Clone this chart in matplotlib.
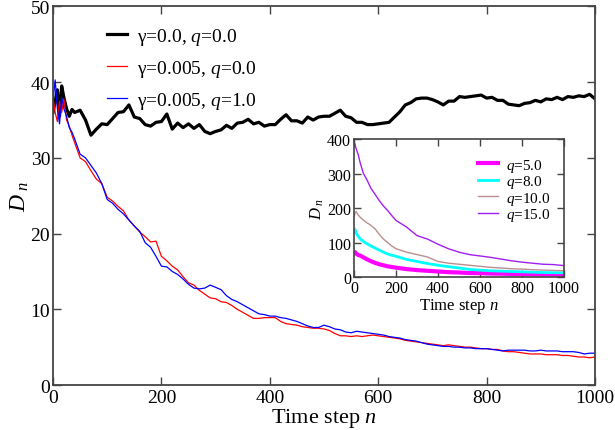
import numpy as np
import matplotlib
matplotlib.use('Agg')
import matplotlib.pyplot as plt

plt.rcParams['font.family'] = ['Liberation Serif', 'DejaVu Serif']
plt.rcParams['mathtext.fontset'] = 'custom'
plt.rcParams['mathtext.rm'] = 'Liberation Serif'
plt.rcParams['mathtext.it'] = 'Liberation Serif:italic'

# --- main panel data ---
n_main = [0, 4, 8, 12, 16, 20, 25, 30, 35, 40] + list(range(50, 1001, 10))

d_black = [36.0, 37.5, 39.0, 35.5, 39.5, 38.0, 36.5, 35.5, 36.4, 36.0,
           36.3, 35.0, 33.0, 33.8, 34.5, 34.4, 35.2, 36.0, 36.1, 37.0,
           35.4, 35.2, 34.4, 34.2, 34.7, 34.8, 35.8, 33.8, 34.6, 34.0,
           34.5, 33.9, 34.4, 33.5, 33.2, 33.5, 33.7, 34.3, 33.9, 34.6,
           34.7, 35.1, 34.5, 34.7, 34.2, 34.4, 34.4, 35.1, 35.7, 34.9,
           34.9, 34.6, 35.4, 35.0, 35.4, 35.5, 35.5, 35.9, 36.3, 35.5,
           35.3, 34.7, 34.7, 34.4, 34.4, 34.5, 34.6, 34.7, 35.4, 36.1,
           37.0, 37.3, 37.8, 37.9, 37.9, 37.7, 37.4, 37.0, 37.5, 37.5,
           38.1, 38.0, 38.1, 38.2, 38.3, 37.9, 38.0, 37.6, 37.6, 37.1,
           37.0, 36.9, 37.2, 37.3, 37.6, 37.4, 37.8, 37.7, 38.0, 37.7,
           38.1, 38.0, 38.2, 38.1, 38.4, 37.8]

d_red = [38.0, 36.0, 34.8, 37.5, 36.0, 37.8, 35.0, 34.2, 33.0, 32.0,
         30.0, 29.5, 28.3, 27.2, 26.6, 24.8, 24.3, 23.6, 23.0, 21.8,
         21.0, 20.2, 19.6, 18.9, 19.0, 17.0, 16.4, 15.7, 15.2, 14.3,
         13.5, 13.2, 12.5, 12.0, 11.5, 11.4, 11.0, 10.9, 10.5, 10.0,
         9.6, 9.2, 8.8, 8.8, 8.9, 8.9, 8.9, 8.4, 8.1, 8.0,
         7.9, 7.7, 7.6, 7.5, 7.5, 7.4, 7.2, 6.8, 6.5, 6.5,
         6.4, 6.5, 6.4, 6.5, 6.6, 6.5, 6.4, 6.3, 6.2, 6.1,
         5.9, 5.8, 5.7, 5.6, 5.5, 5.4, 5.3, 5.2, 5.3, 5.2,
         5.1, 5.0, 5.0, 4.9, 4.8, 4.8, 4.7, 4.7, 4.5, 4.4,
         4.4, 4.3, 4.2, 4.1, 4.1, 4.1, 4.0, 4.0, 4.0, 3.9,
         3.9, 3.8, 3.7, 3.7, 3.6, 3.7]

d_blue = [37.5, 40.3, 36.5, 34.5, 38.0, 36.5, 35.5, 34.0, 33.4, 32.5,
          30.5, 30.0, 29.0, 28.0, 26.6, 24.5, 24.0, 23.2, 22.6, 21.8,
          21.0, 20.3, 18.8, 18.2, 17.0, 15.7, 15.6, 15.0, 14.6, 14.0,
          13.3, 12.8, 12.7, 12.8, 13.2, 12.9, 12.6, 11.8, 11.3, 11.0,
          10.6, 10.2, 9.8, 9.4, 9.3, 9.1, 9.1, 8.9, 8.8, 8.6,
          8.4, 8.1, 7.8, 7.6, 7.6, 7.9, 7.7, 7.4, 7.3, 7.0,
          6.9, 7.1, 7.0, 6.9, 6.8, 6.7, 6.6, 6.4, 6.3, 6.2,
          6.0, 5.9, 5.8, 5.6, 5.4, 5.3, 5.2, 5.1, 5.1, 5.0,
          5.0, 4.9, 4.9, 4.8, 4.8, 4.8, 4.7, 4.6, 4.5, 4.6,
          4.6, 4.6, 4.6, 4.5, 4.5, 4.6, 4.5, 4.5, 4.5, 4.4,
          4.4, 4.4, 4.3, 4.1, 4.2, 4.2]

# --- inset data ---
n_inset = [0, 5, 10, 20, 30, 45, 60, 80, 100, 120, 140, 160, 180, 200] + list(range(250, 1001, 50))

d_q5 = [70, 72, 68, 64, 62, 57, 52, 46, 41, 37, 34, 31, 29, 27,
        23, 20, 18, 16, 14, 13, 11.5, 11, 10, 9.5, 9, 8.5, 8, 7.5, 7.2, 7]
d_q8 = [130, 138, 128, 118, 110, 103, 97, 90, 84, 78, 72, 67, 63, 60,
        51, 45, 39, 34, 30, 26, 22, 20, 18, 17, 16, 15, 14, 13, 12.5, 12]
d_q10 = [175, 185, 190, 180, 173, 165, 158, 150, 140, 124, 110, 100, 90, 82,
         72, 65, 58, 45, 40, 37, 34, 31, 28, 26, 24, 23, 21, 20, 19, 18]
d_q15 = [392, 385, 372, 355, 330, 300, 284, 258, 240, 222, 206, 193, 178, 164,
         145, 120, 110, 95, 82, 72, 65, 61, 57, 52, 47, 43, 40, 37, 36, 33]

SPINE = '#444444'

fig = plt.figure(figsize=(6.15, 4.31), dpi=100)
ax = fig.add_axes([0.0862, 0.1044, 0.8813, 0.8782])

ax.plot(n_main, d_black, color='black', lw=2.3, label='γ=0.0, $q$=0.0')
ax.plot(n_main, d_red, color='#ff0000', lw=0.9, label='γ=0.005, $q$=0.0')
ax.plot(n_main, d_blue, color='#0000ff', lw=0.9, label='γ=0.005, $q$=1.0')

ax.set_xlim(0, 1000)
ax.set_ylim(0, 50)
ax.set_xticks(range(0, 1001, 200))
ax.set_yticks(range(0, 51, 10))
ax.tick_params(direction='in', top=True, right=True, length=6, width=1,
               labelsize=14, color=SPINE)
ax.tick_params(axis='x', pad=3)
ax.tick_params(axis='y', pad=2)
for s in ax.spines.values():
    s.set_color(SPINE)
    s.set_linewidth(1.3)
ax.set_xlabel('Time step $n$', fontsize=16, labelpad=0)
ax.set_ylabel('$D_{\\ n}$', fontsize=17, labelpad=0)

ax.legend(loc='upper left', bbox_to_anchor=(0.174, 0.938), bbox_transform=fig.transFigure,
          frameon=False, fontsize=14, handlelength=1.05, handletextpad=0.5,
          labelspacing=0.58, borderpad=0, borderaxespad=0)

# --- inset ---
axi = fig.add_axes([0.5756, 0.355, 0.3415, 0.320])
axi.plot(n_inset, d_q5, color='#ff00ff', lw=3.0, label='$q$=5.0')
axi.plot(n_inset, d_q8, color='#00ffff', lw=2.0, label='$q$=8.0')
axi.plot(n_inset, d_q10, color='#bc8f8f', lw=1.0, label='$q$=10.0')
axi.plot(n_inset, d_q15, color='#a020f0', lw=1.0, label='$q$=15.0')

axi.set_xlim(0, 1000)
axi.set_ylim(0, 400)
axi.set_xticks(range(0, 1001, 200))
axi.set_yticks(range(0, 401, 100))
axi.tick_params(direction='in', top=True, right=True, length=5, width=1,
                labelsize=11.5, color=SPINE, pad=2)
for s in axi.spines.values():
    s.set_color(SPINE)
    s.set_linewidth(1.2)
axi.set_xlabel('Time step $n$', fontsize=12, labelpad=0)
axi.set_ylabel('$D_{\\ n}$', fontsize=12, labelpad=1)

axi.legend(loc='upper left', bbox_to_anchor=(0.778, 0.634), bbox_transform=fig.transFigure,
           frameon=False, fontsize=11, handlelength=1.3, handletextpad=0.5,
           labelspacing=-0.04, borderpad=0, borderaxespad=0)

plt.savefig('out.png', dpi=100)
plt.close()
